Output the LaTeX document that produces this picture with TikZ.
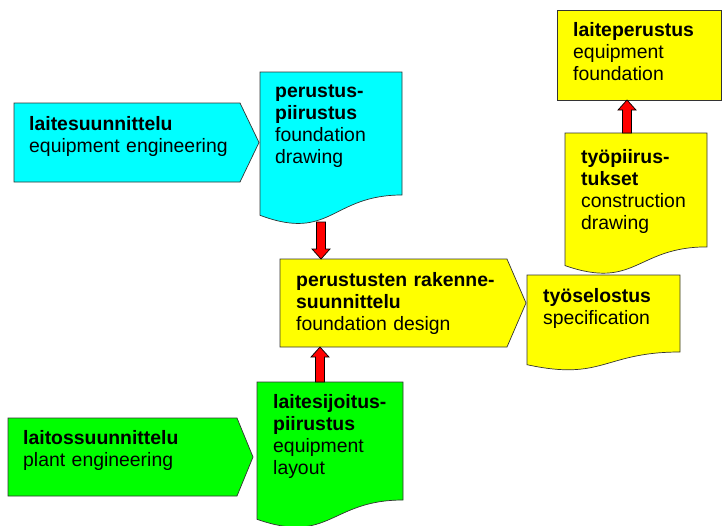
\documentclass[tikz,border=0pt]{standalone}
\usepackage{fontspec}
\setmainfont{Liberation Sans}
\usetikzlibrary{calc}
\definecolor{cyc}{RGB}{0,255,255}
\definecolor{yec}{RGB}{255,255,0}
\definecolor{grc}{RGB}{0,255,0}
\definecolor{rdc}{RGB}{255,0,0}
\tikzset{
  shp/.style={draw=black!80, line width=0.7pt},
  cyanf/.style={shp, fill=cyc},
  yelf/.style={shp, fill=yec},
  grnf/.style={shp, fill=grc},
  txt/.style={anchor=base west, inner sep=0pt, text width=240pt, align=left,
    font=\fontsize{19.4}{22}\selectfont},
  fatarrow/.style={draw=black, fill=rdc, line width=0.7pt, to path={
    ($(\tikztostart)!4.5pt!90:(\tikztotarget)$)
    -- ($($(\tikztotarget)!10pt!(\tikztostart)$)!4.5pt!90:(\tikztotarget)$)
    -- ($($(\tikztotarget)!10pt!(\tikztostart)$)!9pt!90:(\tikztotarget)$)
    -- (\tikztotarget)
    -- ($($(\tikztotarget)!10pt!(\tikztostart)$)!9pt!-90:(\tikztotarget)$)
    -- ($($(\tikztotarget)!10pt!(\tikztostart)$)!4.5pt!-90:(\tikztotarget)$)
    -- ($(\tikztostart)!4.5pt!-90:(\tikztotarget)$)
    -- cycle}}
}
\begin{document}
\begin{tikzpicture}[x=1pt, y=-1pt]
\useasboundingbox (0,0) rectangle (723,525);

% cyan pentagon
\draw[cyanf] (14,103) -- (240,103) -- (259,142.5) -- (240,182) -- (14,182) -- cycle;
\node[txt] (laitesu) at (29,130) {\textbf{laitesuunnittelu}\\equipment engineering};

% cyan document
\draw[cyanf] (260,72) -- (402,72) -- (402,195)
  .. controls (331,195) and (331,241.9) .. (260,215.3) -- cycle;
\node[txt] (perpii) at (275,97) {\textbf{perustus-}\\\textbf{piirustus}\\foundation\\drawing};

% yellow pentagon
\draw[yelf] (280,259) -- (507,259) -- (526,303) -- (507,347) -- (280,347) -- cycle;
\node[txt] (perrak) at (296,286) {\textbf{perustusten rakenne-}\\\textbf{suunnittelu}\\foundation design};

% tyoselostus document
\draw[yelf] (527,275) -- (680,275) -- (680,352)
  .. controls (603.5,352) and (603.5,381.3) .. (527,364.7) -- cycle;
\node[txt] (tyosel) at (543,302) {\textbf{työselostus}\\specification};

% tyopiirustukset document
\draw[yelf] (565,133) -- (707,133) -- (707,246.9)
  .. controls (636,246.9) and (636,290.3) .. (565,265.6) -- cycle;
\node[txt] (tyopii) at (581,163) {\textbf{työpiirus-}\\\textbf{tukset}\\construction\\drawing};

% laiteperustus box
\draw[yelf] (557,10) rectangle (721,100);
\node[txt] (laiper) at (573,36) {\textbf{laiteperustus}\\equipment\\foundation};

% green pentagon
\draw[grnf] (8,418) -- (237,418) -- (253,457) -- (237,496) -- (8,496) -- cycle;
\node[txt] (laitos) at (23,444) {\textbf{laitossuunnittelu}\\plant engineering};

% green document
\draw[grnf] (257,382) -- (403,382) -- (403,500)
  .. controls (330,500) and (330,544.8) .. (257,519.3) -- cycle;
\node[txt] (laisij) at (273,408) {\textbf{laitesijoitus-}\\\textbf{piirustus}\\equipment\\layout};

% arrow end points
\coordinate (a1s) at (321,222);
\coordinate (a1e) at (321,259);
\coordinate (a2s) at (320,382);
\coordinate (a2e) at (320,347);
\coordinate (a3s) at (627,133);
\coordinate (a3e) at (627,100);

\draw[fatarrow] (a1s) to (a1e);
\draw[fatarrow] (a2s) to (a2e);
\draw[fatarrow] (a3s) to (a3e);
\end{tikzpicture}
\end{document}
